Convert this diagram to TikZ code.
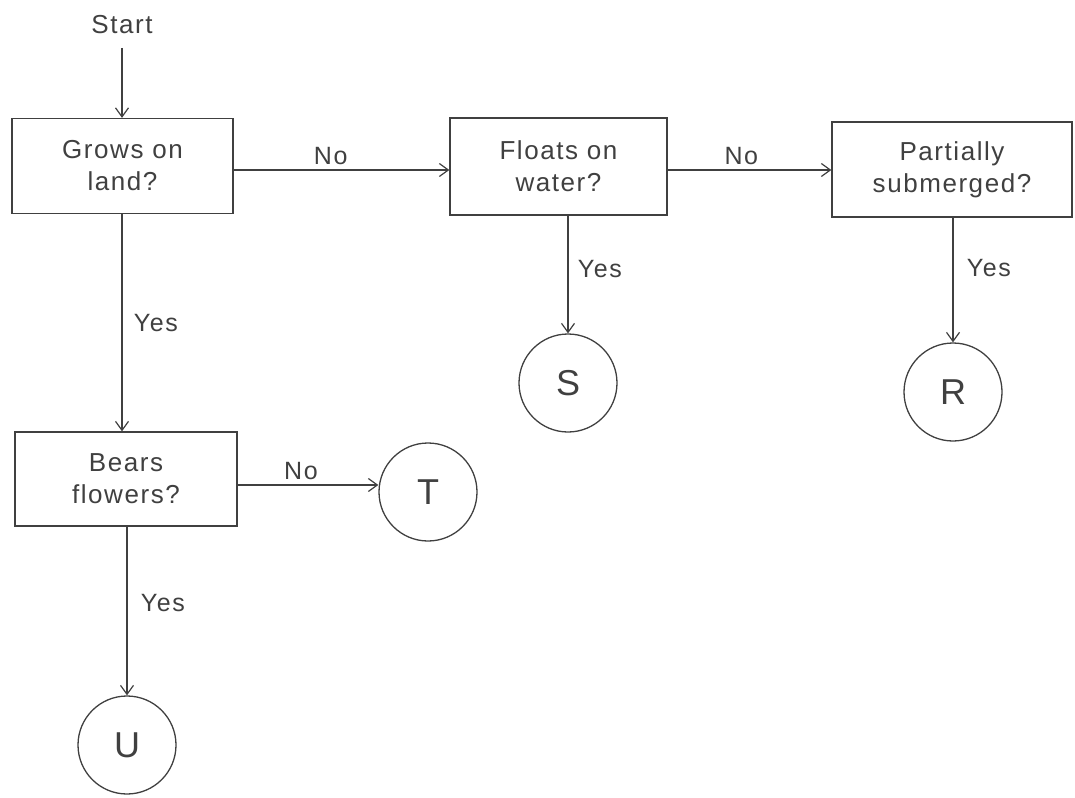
\documentclass[tikz,border=0pt]{standalone}
\usepackage{fontspec}
\setmainfont{Liberation Sans}[LetterSpace=6]
\usetikzlibrary{arrows.meta}
\definecolor{ink}{gray}{0.25}
\begin{document}
\begin{tikzpicture}[x=1pt,y=-1pt,
  every node/.style={text=ink,font=\fontsize{26}{32}\selectfont},
  qbox/.style={draw=ink,line width=1.3pt,rectangle,inner sep=0pt,align=center},
  leaf/.style={draw=ink,line width=1.3pt,circle,minimum size=98pt,inner sep=0pt,font=\fontsize{36}{40}\selectfont},
  conn/.style={draw=ink,line width=1.3pt,-{Straight Barb[length=9pt,width=13pt,line width=1.2pt]}},
  lab/.style={font=\fontsize{25}{30}\selectfont}]
\useasboundingbox (0,0) rectangle (1075,797);
\node (start) at (122,25) {Start};
\node[qbox,minimum width=221pt,minimum height=95pt] (land) at (122.5,166) {Grows on\\land?};
\node[qbox,minimum width=217pt,minimum height=97pt] (float) at (558.5,166.5) {Floats on\\water?};
\node[qbox,minimum width=240pt,minimum height=95pt] (part) at (952,169.5) {Partially\\submerged?};
\node[qbox,minimum width=222pt,minimum height=94pt] (bears) at (126,479) {Bears\\flowers?};
\node[leaf] (S) at (568,383) {S};
\node[leaf] (R) at (953,392) {R};
\node[leaf] (T) at (428,492) {T};
\node[leaf] (U) at (127,745) {U};
\coordinate (s0) at (122,48);
\draw[conn] (s0) -- (s0 |- land.north);
\draw[conn] (land.east |- 0,170) -- node[lab,above=1pt,pos=0.45]{No} (float.west |- 0,170);
\draw[conn] (float.east |- 0,170) -- node[lab,above=1pt,pos=0.45]{No} (part.west |- 0,170);
\draw[conn] (s0 |- land.south) -- node[lab,right=8pt]{Yes} (s0 |- bears.north);
\draw[conn] (float.south -| S.north) -- node[lab,right=6pt,pos=0.45]{Yes} (S.north);
\draw[conn] (part.south -| R.north) -- node[lab,right=10pt,pos=0.4]{Yes} (R.north);
\draw[conn] (bears.east |- 0,485) -- node[lab,above=1pt,pos=0.45]{No} (T.west |- 0,485);
\draw[conn] (bears.south -| U.north) -- node[lab,right=10pt,pos=0.45]{Yes} (U.north);
\end{tikzpicture}
\end{document}
